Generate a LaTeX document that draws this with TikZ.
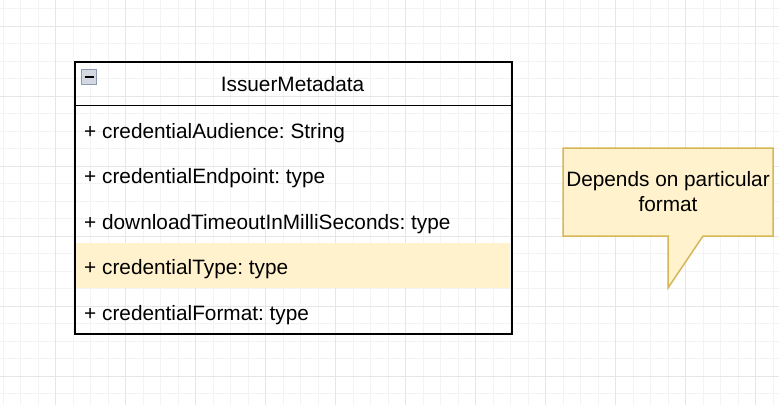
\documentclass[tikz,border=0pt]{standalone}
\usepackage{fontspec}
\setmainfont{Liberation Sans}
\frenchspacing
\definecolor{gridminor}{HTML}{F3F3F3}
\definecolor{gridmajor}{HTML}{E6E6E6}
\definecolor{notefill}{HTML}{FFF2CC}
\definecolor{notedraw}{HTML}{D6B656}
\definecolor{iconfill}{HTML}{D3D8E2}
\definecolor{icondraw}{HTML}{8E9AB0}
\begin{document}
\begin{tikzpicture}[x=1pt,y=-1pt,
  font=\fontsize{20.8pt}{25pt}\selectfont,
  attr/.style={anchor=base west, inner sep=0pt},
  classbox/.style={draw=black, line width=1.5pt, inner sep=0pt, anchor=north west},
  callout/.style={draw=notedraw, fill=notefill, line width=1.5pt, line join=miter},
  minorline/.style={draw=gridminor, line width=0.8pt},
  majorline/.style={draw=gridmajor, line width=1pt}]
\useasboundingbox (0,0) rectangle (779,405);
\fill[white] (0,0) rectangle (779,405);
% grid
\foreach \i in {0,...,44} {\path[minorline] ({3.2+17.5*\i},0) -- ({3.2+17.5*\i},405);}
\foreach \j in {0,...,22} {\path[minorline] (0,{8.5+17.5*\j}) -- (779,{8.5+17.5*\j});}
\foreach \i in {0,...,10} {\path[majorline] ({55.7+70*\i},0) -- ({55.7+70*\i},405);}
\foreach \j in {0,...,5} {\path[majorline] (0,{26+70*\j}) -- (779,{26+70*\j});}
% highlighted row
\fill[notefill] (75,242.7) rectangle (510,288.3);
% class box
\node[classbox, minimum width=437pt, minimum height=272pt] (cls) at (74,61) {};
\draw[line width=1.5pt] ([yshift=-44.5pt]cls.north west) -- ([yshift=-44.5pt]cls.north east);
% collapse icon
\node[draw=icondraw, fill=iconfill, line width=1pt, minimum size=15pt, inner sep=0pt] (icon) at (89,77) {};
\draw[line width=2pt] ([xshift=-4.5pt]icon.center) -- ([xshift=4.5pt]icon.center);
% texts
\node[anchor=base, inner sep=0pt] (hdr) at (292.5,91.7) {IssuerMetadata};
\node[attr] (a1) at (84,138.3) {+ credentialAudience: String};
\node[attr] (a2) at (84,183.8) {+ credentialEndpoint: type};
\node[attr] (a3) at (84,229.3) {+ downloadTimeoutInMilliSeconds: type};
\node[attr] (a4) at (84,274.8) {+ credentialType: type};
\node[attr] (a5) at (84,320.3) {+ credentialFormat: type};
% callout
\path[callout] (563,148) -- (773,148) -- (773,236) -- (703,236) -- (668,288) -- (668,236) -- (563,236) -- cycle;
\node[anchor=base, align=center, inner sep=0pt] (note) at (668,211.7) {Depends on particular\\format};
\end{tikzpicture}
\end{document}
